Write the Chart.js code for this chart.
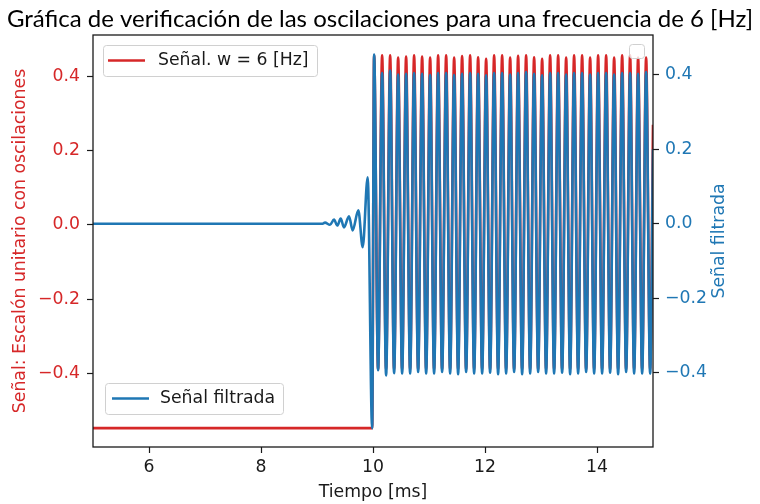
<!DOCTYPE html>
<html><head><meta charset="utf-8">
<script src="https://cdn.jsdelivr.net/npm/chart.js@4.4.1/dist/chart.umd.min.js"></script>
<style>html,body{margin:0;padding:0;background:#fff}#wrap{width:760px;height:504px}</style>
</head><body><div id="wrap"><canvas id="c" width="760" height="504"></canvas></div>
<script>
const TITLE = 'Gráfica de verificación de las oscilaciones para una frecuencia de 6 [Hz]';
const X_LABEL = 'Tiempo [ms]';
const Y_LEFT_LABEL = 'Señal: Escalón unitario con oscilaciones';
const Y_RIGHT_LABEL = 'Señal filtrada';
const LEGEND_RED = 'Señal. w = 6 [Hz]';
const LEGEND_BLUE = 'Señal filtrada';

const X_TICKS = [6, 8, 10, 12, 14];
const Y_TICKS = [-0.4, -0.2, 0.0, 0.2, 0.4];

// Red signal (left axis): flat level before the step
const redLeadT = [5.0, 9.985];
const redLeadV = [-0.548, -0.548];

// Filtered signal (right axis) before the step: pre-ringing
const blueLeadT = [5.0, 9.10, 9.143, 9.232, 9.304, 9.363, 9.423, 9.482, 9.571, 9.637, 9.738, 9.816, 9.905, 9.985];
const blueLeadV = [0.0, 0.0, 0.003, -0.003, 0.011, -0.005, 0.014, -0.010, 0.020, -0.018, 0.036, -0.063, 0.125, -0.550];

// Oscillation extrema after the step (times in ms)
const peakT = [10.020, 10.163, 10.306, 10.449, 10.591, 10.734, 10.877,
               11.020, 11.163, 11.306, 11.449, 11.591, 11.734, 11.877,
               12.020, 12.163, 12.306, 12.449, 12.591, 12.734, 12.877,
               13.020, 13.163, 13.306, 13.449, 13.591, 13.734, 13.877,
               14.020, 14.163, 14.306, 14.449, 14.591, 14.734, 14.877];
const troughT = [10.091, 10.234, 10.377, 10.520, 10.663, 10.806, 10.949,
                 11.091, 11.234, 11.377, 11.520, 11.663, 11.806, 11.949,
                 12.091, 12.234, 12.377, 12.520, 12.663, 12.806, 12.949,
                 13.091, 13.234, 13.377, 13.520, 13.663, 13.806, 13.949,
                 14.091, 14.234, 14.377, 14.520, 14.663, 14.806, 14.949];

const bluePeaks = [0.455, 0.405, 0.412, 0.401, 0.403, 0.405, 0.403,
                   0.400, 0.405, 0.405, 0.400, 0.403, 0.405, 0.403,
                   0.399, 0.405, 0.405, 0.401, 0.405, 0.408, 0.403,
                   0.399, 0.405, 0.405, 0.401, 0.405, 0.405, 0.401,
                   0.405, 0.405, 0.401, 0.405, 0.405, 0.403, 0.408];
const blueTroughs = [-0.394, -0.408, -0.402, -0.403, -0.403, -0.399, -0.403,
                     -0.403, -0.399, -0.403, -0.405, -0.399, -0.403, -0.403,
                     -0.401, -0.405, -0.403, -0.399, -0.405, -0.403, -0.399,
                     -0.403, -0.403, -0.401, -0.405, -0.403, -0.399, -0.403,
                     -0.403, -0.401, -0.405, -0.399, -0.403, -0.403, -0.403];
const redPeaks = [0.457, 0.457, 0.457, 0.451, 0.454, 0.457, 0.454,
                  0.451, 0.457, 0.457, 0.451, 0.455, 0.457, 0.452,
                  0.448, 0.457, 0.457, 0.451, 0.456, 0.457, 0.452,
                  0.448, 0.457, 0.457, 0.451, 0.457, 0.457, 0.451,
                  0.457, 0.457, 0.451, 0.457, 0.457, 0.451, 0.451];
const redTroughs = [-0.390, -0.390, -0.390, -0.390, -0.390, -0.390, -0.390,
                    -0.390, -0.390, -0.390, -0.390, -0.390, -0.390, -0.390,
                    -0.390, -0.390, -0.390, -0.390, -0.390, -0.390, -0.390,
                    -0.390, -0.390, -0.390, -0.390, -0.390, -0.390, -0.390,
                    -0.390, -0.390, -0.390, -0.390, -0.390, -0.390, -0.390];
const endT = 15.0;
const blueEnd = 0.20;
const redEnd = 0.27;

const RED = '#d62728';
const BLUE = '#1f77b4';
const INK = '#1a1a1a';
const FONT = 'DejaVu Sans';
const FS = 17.3;

function buildSeries(leadT, leadV, peaks, troughs, endV) {
  const pts = leadT.map((t, i) => ({x: t, y: leadV[i]}));
  peakT.forEach((t, i) => {
    pts.push({x: t, y: peaks[i]});
    pts.push({x: troughT[i], y: troughs[i]});
  });
  pts.push({x: endT, y: endV});
  return pts;
}

// pick title size so the title spans the same width as the original
const mctx = document.createElement('canvas').getContext('2d');
const TITLE_FAMILY = 'Lato';
mctx.font = '100px ' + TITLE_FAMILY;
const TITLE_SIZE = Math.round(100 * 745 / mctx.measureText(TITLE).width * 10) / 10;

const fmt = v => (Math.abs(v) < 1e-9 ? '0.0' : v.toFixed(1).replace('-', '\u2212'));

function roundRect(ctx, x, y, w, h, r) {
  ctx.beginPath();
  ctx.moveTo(x + r, y);
  ctx.lineTo(x + w - r, y);
  ctx.arcTo(x + w, y, x + w, y + r, r);
  ctx.lineTo(x + w, y + h - r);
  ctx.arcTo(x + w, y + h, x + w - r, y + h, r);
  ctx.lineTo(x + r, y + h);
  ctx.arcTo(x, y + h, x, y + h - r, r);
  ctx.lineTo(x, y + r);
  ctx.arcTo(x, y, x + r, y, r);
  ctx.closePath();
}

function legendBox(ctx, x, y, w, h) {
  roundRect(ctx, x + 0.5, y + 0.5, w, h, 3);
  ctx.fillStyle = 'rgba(255,255,255,0.8)';
  ctx.fill();
  ctx.strokeStyle = '#d0d0d0';
  ctx.lineWidth = 1;
  ctx.stroke();
}

const decor = {
  id: 'decor',
  afterDatasetsDraw(chart) {
    const ctx = chart.ctx, ca = chart.chartArea;
    ctx.save();
    // frame
    ctx.strokeStyle = INK;
    ctx.lineWidth = 1.3;
    ctx.strokeRect(ca.left, ca.top, ca.right - ca.left, ca.bottom - ca.top);
    // legend 1 (red)
    let bx = ca.left + 10, by = ca.top + 10;
    legendBox(ctx, bx, by, 214, 31);
    ctx.strokeStyle = RED; ctx.lineWidth = 2.6;
    ctx.beginPath(); ctx.moveTo(bx + 5, by + 15.5); ctx.lineTo(bx + 42, by + 15.5); ctx.stroke();
    ctx.fillStyle = INK; ctx.font = FS + 'px "' + FONT + '"';
    ctx.textAlign = 'left'; ctx.textBaseline = 'middle';
    ctx.fillText(LEGEND_RED, bx + 55, by + 16);
    // legend 2 (blue)
    bx = ca.left + 12; by = ca.bottom - 64;
    legendBox(ctx, bx, by, 178, 31);
    ctx.strokeStyle = BLUE; ctx.lineWidth = 2.6;
    ctx.beginPath(); ctx.moveTo(bx + 7, by + 15.5); ctx.lineTo(bx + 44, by + 15.5); ctx.stroke();
    ctx.fillStyle = INK;
    ctx.fillText(LEGEND_BLUE, bx + 55, by + 16);
    // empty legend of the twin axis
    legendBox(ctx, ca.right - 24, ca.top + 9, 15, 14);
    // right axis title
    ctx.translate(720, (ca.top + ca.bottom) / 2);
    ctx.rotate(-Math.PI / 2);
    ctx.fillStyle = BLUE; ctx.textAlign = 'center'; ctx.textBaseline = 'middle';
    ctx.fillText(Y_RIGHT_LABEL, 0, 0);
    ctx.restore();
  }
};

const tickGrid = {drawOnChartArea: false, drawTicks: true, tickLength: 6, tickColor: INK, tickWidth: 1.2};

new Chart(document.getElementById('c'), {
  type: 'line',
  data: {
    datasets: [
      {label: LEGEND_BLUE, data: buildSeries(blueLeadT, blueLeadV, bluePeaks, blueTroughs, blueEnd),
       yAxisID: 'yR', borderColor: BLUE, borderWidth: 2.6, pointRadius: 0,
       cubicInterpolationMode: 'monotone', fill: false},
      {label: LEGEND_RED, data: buildSeries(redLeadT, redLeadV, redPeaks, redTroughs, redEnd),
       yAxisID: 'yL', borderColor: RED, borderWidth: 2.6, pointRadius: 0,
       cubicInterpolationMode: 'monotone', fill: false}
    ]
  },
  options: {
    responsive: false, animation: false, devicePixelRatio: 1,
    layout: {padding: 0},
    plugins: {
      legend: {display: false}, tooltip: {enabled: false},
      title: {display: true, text: TITLE, color: '#000',
              font: {family: TITLE_FAMILY, size: TITLE_SIZE, weight: 'normal', lineHeight: 1.2},
              padding: {top: 5, bottom: 35 - 5 - TITLE_SIZE * 1.2}}
    },
    scales: {
      x: {
        type: 'linear', min: 5, max: 15,
        afterBuildTicks: s => { s.ticks = X_TICKS.map(v => ({value: v})); },
        afterFit: s => { s.height = 57; },
        ticks: {color: INK, font: {family: FONT, size: FS}, padding: 4, maxRotation: 0},
        grid: tickGrid, border: {display: false},
        title: {display: true, text: X_LABEL, color: INK, font: {family: FONT, size: FS}, padding: {top: 0, bottom: 1}}
      },
      yL: {
        type: 'linear', position: 'left', min: -0.599, max: 0.512,
        afterBuildTicks: s => { s.ticks = Y_TICKS.map(v => ({value: v})); },
        afterFit: s => { s.width = 93; },
        ticks: {color: RED, font: {family: FONT, size: FS}, padding: 7, callback: v => fmt(v)},
        grid: tickGrid, border: {display: false},
        title: {display: true, text: Y_LEFT_LABEL, color: RED, font: {family: FONT, size: FS}, padding: {top: 10, bottom: 0}}
      },
      yR: {
        type: 'linear', position: 'right', min: -0.6005, max: 0.5075,
        afterBuildTicks: s => { s.ticks = Y_TICKS.map(v => ({value: v})); },
        afterFit: s => { s.width = 107; },
        ticks: {color: BLUE, font: {family: FONT, size: FS}, padding: 6, callback: v => fmt(v)},
        grid: tickGrid, border: {display: false}
      }
    }
  },
  plugins: [decor]
});
</script></body></html>
